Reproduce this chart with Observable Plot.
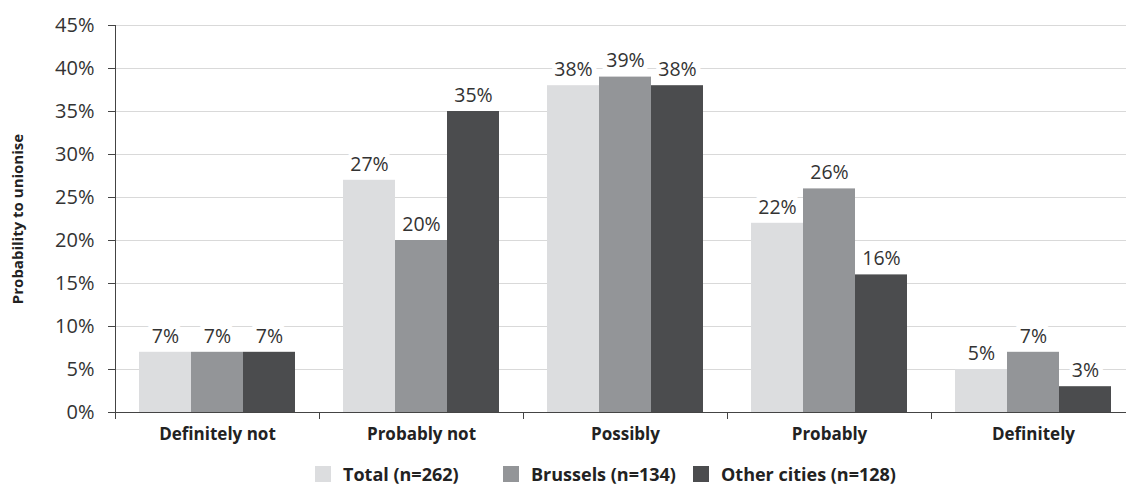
<!DOCTYPE html>
<html>
<head>
<meta charset="utf-8">
<script src="https://cdn.jsdelivr.net/npm/d3@7"></script>
<script src="https://cdn.jsdelivr.net/npm/@observablehq/plot@0.6"></script>
<style>
  body { margin: 0; background: #fff; font-family: "Open Sans", sans-serif; }
  #legend { display: flex; align-items: center; padding-left: 315px; margin-top: 12px; height: 20px; font-weight: bold; font-size: 18px; color: #222; white-space: nowrap; }
  #legend .item { display: flex; align-items: center; flex: none; }
  #legend .sw { width: 16px; height: 16px; margin-right: 12px; flex: none; }
</style>
</head>
<body>
<div id="chart"></div>
<div id="legend"></div>
<script>
const categories = ["Definitely not", "Probably not", "Possibly", "Probably", "Definitely"];
const series = ["Total (n=262)", "Brussels (n=134)", "Other cities (n=128)"];
const total = [7, 27, 38, 22, 5];
const brussels = [7, 20, 39, 26, 7];
const otherCities = [7, 35, 38, 16, 3];
const yTicks = [0, 5, 10, 15, 20, 25, 30, 35, 40, 45];
const colors = ["#dcdddf", "#939598", "#4b4c4e"];
const yTitle = "Probability to unionise";
const legendWidths = [188, 190, null];

const values = [total, brussels, otherCities];
const data = [];
categories.forEach((c, ci) => {
  series.forEach((s, si) => {
    data.push({category: c, series: s, value: values[si][ci]});
  });
});

const H = 452, mTop = 25, mBottom = 40;
const plotH = H - mTop - mBottom;

const chart = Plot.plot({
  width: 1126,
  height: H,
  marginLeft: 115,
  marginRight: -9,
  marginTop: mTop,
  marginBottom: mBottom,
  style: {fontFamily: "'Open Sans', sans-serif", color: "#333", background: "#fff"},
  fx: {domain: categories, padding: 0},
  x: {domain: series, paddingInner: 0, paddingOuter: 0.46, axis: null},
  y: {domain: [0, 45], axis: null},
  color: {domain: series, range: colors},
  marks: [
    Plot.gridY(yTicks, {stroke: "#d9d9d9", strokeOpacity: 1}),
    Plot.barY(data, {fx: "category", x: "series", y: "value", fill: "series"}),
    Plot.text(data, {fx: "category", x: "series", y: "value", text: d => d.value + "%", dy: -16, fill: "#333", stroke: "white", strokeWidth: 10, fontSize: 19.5}),
    Plot.ruleY([0], {stroke: "#444"}),
    Plot.ruleX([series[0]], {x: d => d, dx: -50, insetTop: plotH, insetBottom: -7, stroke: "#444"}),
    Plot.ruleX([{c: categories[0]}], {fx: "c", x: () => series[0], y1: 0, y2: 45, dx: -50, stroke: "#444"}),
    Plot.axisY({ticks: yTicks, tickFormat: d => d + "%", tickSize: 7, tickPadding: 14, fontSize: 20, label: null, stroke: "#444", fill: "#333"}),
    Plot.axisFx({anchor: "bottom", tickSize: 0, tickPadding: 15, fontSize: 17, fontWeight: "bold", label: null, fill: "#222"}),
    Plot.text([{c: categories[0], t: yTitle}], {fx: "c", text: "t", frameAnchor: "left", textAnchor: "middle", rotate: -90, dx: -97, fontSize: 15, fontWeight: "bold", fill: "#222"})
  ]
});
document.getElementById("chart").appendChild(chart);

const legend = document.getElementById("legend");
series.forEach((s, i) => {
  const item = document.createElement("div");
  item.className = "item";
  if (legendWidths[i]) item.style.width = legendWidths[i] + "px";
  const sw = document.createElement("div");
  sw.className = "sw";
  sw.style.background = colors[i];
  const label = document.createElement("span");
  label.textContent = s;
  item.appendChild(sw);
  item.appendChild(label);
  legend.appendChild(item);
});
</script>
</body>
</html>
